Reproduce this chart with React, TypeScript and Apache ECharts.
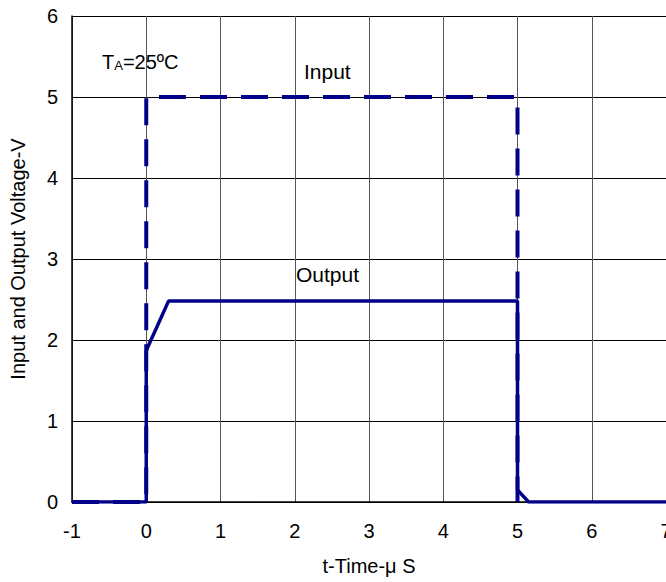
import React, { useEffect, useRef } from "react";
import * as echarts from "echarts";

const outputPoints: [number, number][] = [
  [-1, 0], [0, 0], [0, 1.87], [0.3, 2.48], [5, 2.48], [5, 0.15], [5.15, 0], [7, 0],
];
const inputPoints: [number, number][] = [
  [-1, 0], [0, 0], [0, 5], [5, 5], [5, 0],
];
const xTicks = { min: -1, max: 7, interval: 1 };
const yTicks = { min: 0, max: 6, interval: 1 };

const FONT = "Liberation Sans, Arial, sans-serif";
const NAVY = "#000088";

export default function App() {
  const ref = useRef<HTMLDivElement>(null);
  useEffect(() => {
    document.body.style.margin = "0";
    const chart = echarts.init(ref.current!, null, { renderer: "svg" });
    chart.setOption({
      animation: false,
      backgroundColor: "#fff",
      grid: {
        left: 72,
        right: 0,
        top: 16,
        bottom: 80,
        containLabel: false,
        outerBoundsMode: "none",
      },
      xAxis: {
        type: "value",
        min: xTicks.min,
        max: xTicks.max,
        interval: xTicks.interval,
        name: "t-Time-μ S",
        nameLocation: "middle",
        nameGap: 54,
        nameTextStyle: { fontSize: 20, color: "#000", fontFamily: FONT },
        axisLine: { onZero: false, lineStyle: { color: "#000", width: 1.5 } },
        axisTick: { show: false },
        axisLabel: { fontSize: 20, color: "#000", fontFamily: FONT, margin: 19 },
        splitLine: { show: true, lineStyle: { color: "#555", width: 1 } },
      },
      yAxis: {
        type: "value",
        min: yTicks.min,
        max: yTicks.max,
        interval: yTicks.interval,
        name: "Input and Output Voltage-V",
        nameLocation: "middle",
        nameGap: 44,
        nameTextStyle: { fontSize: 20, color: "#000", fontFamily: FONT },
        axisLine: { show: true, onZero: false, lineStyle: { color: "#000", width: 1.5 } },
        axisTick: { show: false },
        axisLabel: { fontSize: 20, color: "#000", fontFamily: FONT, margin: 14 },
        splitLine: { show: true, lineStyle: { color: "#000", width: 1.2 } },
      },
      series: [
        {
          type: "line",
          name: "Input",
          data: inputPoints,
          symbol: "none",
          lineStyle: { color: NAVY, width: 4, type: [27, 14] },
          z: 3,
        },
        {
          type: "line",
          name: "Output",
          data: outputPoints,
          symbol: "none",
          lineStyle: { color: NAVY, width: 3.5 },
          z: 4,
        },
      ],
      graphic: [
        {
          type: "text",
          left: 304,
          top: 61,
          style: { text: "Input", fontSize: 21, fill: "#000", fontFamily: FONT },
        },
        {
          type: "text",
          left: 296,
          top: 264,
          style: { text: "Output", fontSize: 21, fill: "#000", fontFamily: FONT },
        },
        {
          type: "text",
          left: 102,
          top: 52,
          style: {
            text: "{t|T}{s|A}{t|=25ºC}",
            rich: {
              t: { fontSize: 20, fill: "#000", fontFamily: FONT, verticalAlign: "bottom" },
              s: { fontSize: 13, fill: "#000", fontFamily: FONT, padding: [10, 0, 0, 0], verticalAlign: "bottom" },
            },
          },
        },
      ],
    });
    return () => chart.dispose();
  }, []);
  return (
    <div
      ref={ref}
      style={{ position: "absolute", left: 0, top: 0, width: 666, height: 582 }}
    />
  );
}
